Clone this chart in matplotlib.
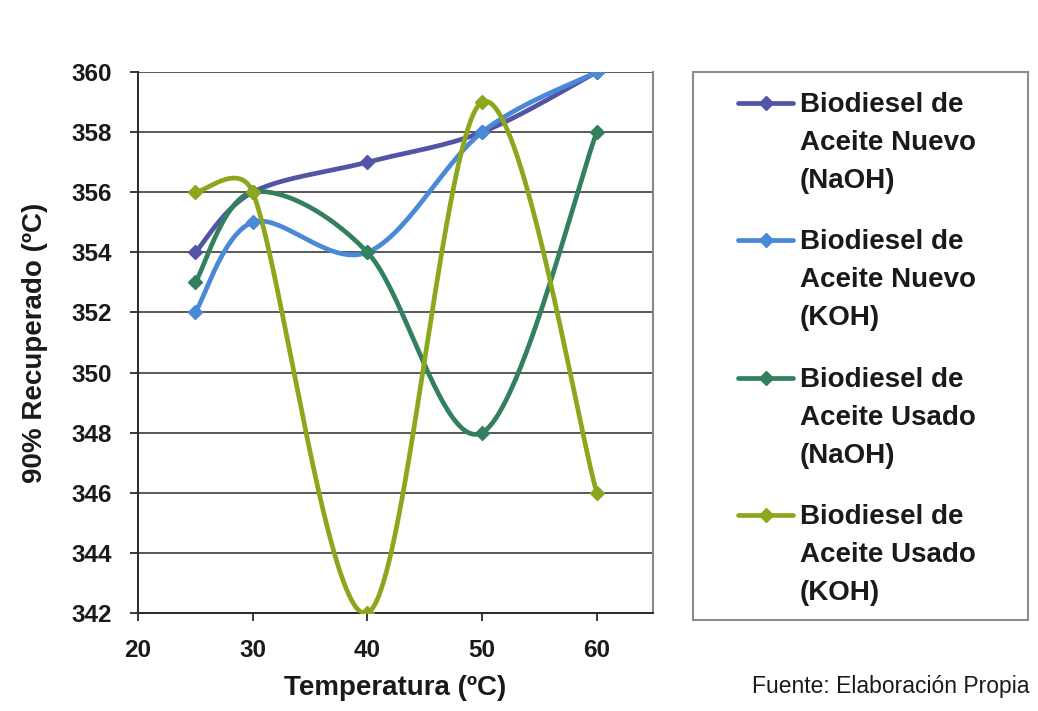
import numpy as np
import matplotlib
matplotlib.use("Agg")
import matplotlib.pyplot as plt
from matplotlib.lines import Line2D
from matplotlib.patches import Rectangle

plt.rcParams['font.family'] = ['Liberation Sans', 'DejaVu Sans']

temps = [25, 30, 40, 50, 60]
nuevo_naoh = [354, 356, 357, 358, 360]
nuevo_koh = [352, 355, 354, 358, 360]
usado_naoh = [353, 356, 354, 348, 358]
usado_koh = [356, 356, 342, 359, 346]

labels = [["Biodiesel de", "Aceite Nuevo", "(NaOH)"],
          ["Biodiesel de", "Aceite Nuevo", "(KOH)"],
          ["Biodiesel de", "Aceite Usado", "(NaOH)"],
          ["Biodiesel de", "Aceite Usado", "(KOH)"]]
colors = ["#5254a6", "#4a88d8", "#33805f", "#8ba81c"]
series = [nuevo_naoh, nuevo_koh, usado_naoh, usado_koh]

W, H = 1038, 711
fig = plt.figure(figsize=(W/100, H/100), dpi=100)
L, R, T, B = 138, 653, 72, 613
ax = fig.add_axes([L/W, 1-B/H, (R-L)/W, (B-T)/H])

ax.set_xlim(20, 64.9)
ax.set_ylim(342, 360)


def smooth(xs, ys, ax, k=0.6):
    # Excel-like Bezier smoothing computed in display space
    pts = ax.transData.transform(np.column_stack([xs, ys]))
    n = len(pts)
    out = []
    for i in range(n-1):
        p0 = pts[max(i-1, 0)]
        p1 = pts[i]
        p2 = pts[i+1]
        p3 = pts[min(i+2, n-1)]
        dseg = np.linalg.norm(p2 - p1)
        t1 = (p2 - p0) / 6.0
        t2 = (p3 - p1) / 6.0
        for tv in (t1, t2):
            nv = np.linalg.norm(tv)
            if nv > k*dseg and nv > 0:
                tv *= k*dseg/nv
        c1 = p1 + t1
        c2 = p2 - t2
        t = np.linspace(0, 1, 80)[:, None]
        seg = ((1-t)**3)*p1 + 3*((1-t)**2)*t*c1 + 3*(1-t)*t**2*c2 + t**3*p2
        out.append(seg if i == 0 else seg[1:])
    out = np.vstack(out)
    return ax.transData.inverted().transform(out)

fig.canvas.draw()
for ys, c in zip(series, colors):
    cur = smooth(temps, ys, ax)
    ax.plot(cur[:, 0], cur[:, 1], color=c, lw=3.4, solid_capstyle='round',
            solid_joinstyle='round', zorder=3)
    ax.plot(temps, ys, linestyle='none', marker='D', ms=7, color=c, zorder=4)

ax.set_yticks(np.arange(342, 361, 2))
ax.set_xticks([20, 30, 40, 50, 60])
ax.yaxis.grid(True, color='#3c3c3c', lw=1.2)
ax.set_axisbelow(True)
ax.spines['top'].set_visible(False)
ax.spines['right'].set_color('#888888')
ax.spines['right'].set_linewidth(1.5)
for s in ['left', 'bottom']:
    ax.spines[s].set_color('#2a2a2a')
    ax.spines[s].set_linewidth(1.4)
ax.tick_params(axis='both', length=6, width=1.3, color='#2a2a2a',
               labelsize=17.5, pad=13)
for lab in ax.get_xticklabels() + ax.get_yticklabels():
    lab.set_fontweight('bold')
    lab.set_color('#1a1a1a')

fig.text((L+R)/2/W, 1-688/H, "Temperatura (ºC)", fontsize=20, fontweight='bold',
         ha='center', va='center', color='#1a1a1a')
fig.text(35/W, 1-(T+B)/2/H, "90% Recuperado (ºC)", fontsize=20, fontweight='bold',
         ha='center', va='center', rotation=90, color='#1a1a1a')

# Legend drawn as a framed box with handles and three-line labels
fig.patches.append(Rectangle((693/W, 1-620/H), (1028-693)/W, (620-72)/H,
                             transform=fig.transFigure, fill=False,
                             edgecolor='#8c8c8c', lw=1.5))
first_rows = [105, 242, 380, 517]
line_gap = 38
for c, lab, y0 in zip(colors, labels, first_rows):
    fig.add_artist(Line2D([738/W, 793/W], [1-(y0-2)/H]*2, transform=fig.transFigure,
                          color=c, lw=3.4, solid_capstyle='round'))
    fig.add_artist(Line2D([766/W], [1-(y0-2)/H], transform=fig.transFigure,
                          color=c, marker='D', ms=7, linestyle='none'))
    for j, s in enumerate(lab):
        fig.text(800/W, 1-(y0 + j*line_gap)/H, s, fontsize=20, fontweight='bold',
                 ha='left', va='center', color='#1a1a1a')

fig.text(1029/W, 1-687/H, "Fuente: Elaboración Propia", ha='right', va='center',
         fontsize=16.5, color='#1a1a1a')

fig.savefig("out.png", dpi=100)
